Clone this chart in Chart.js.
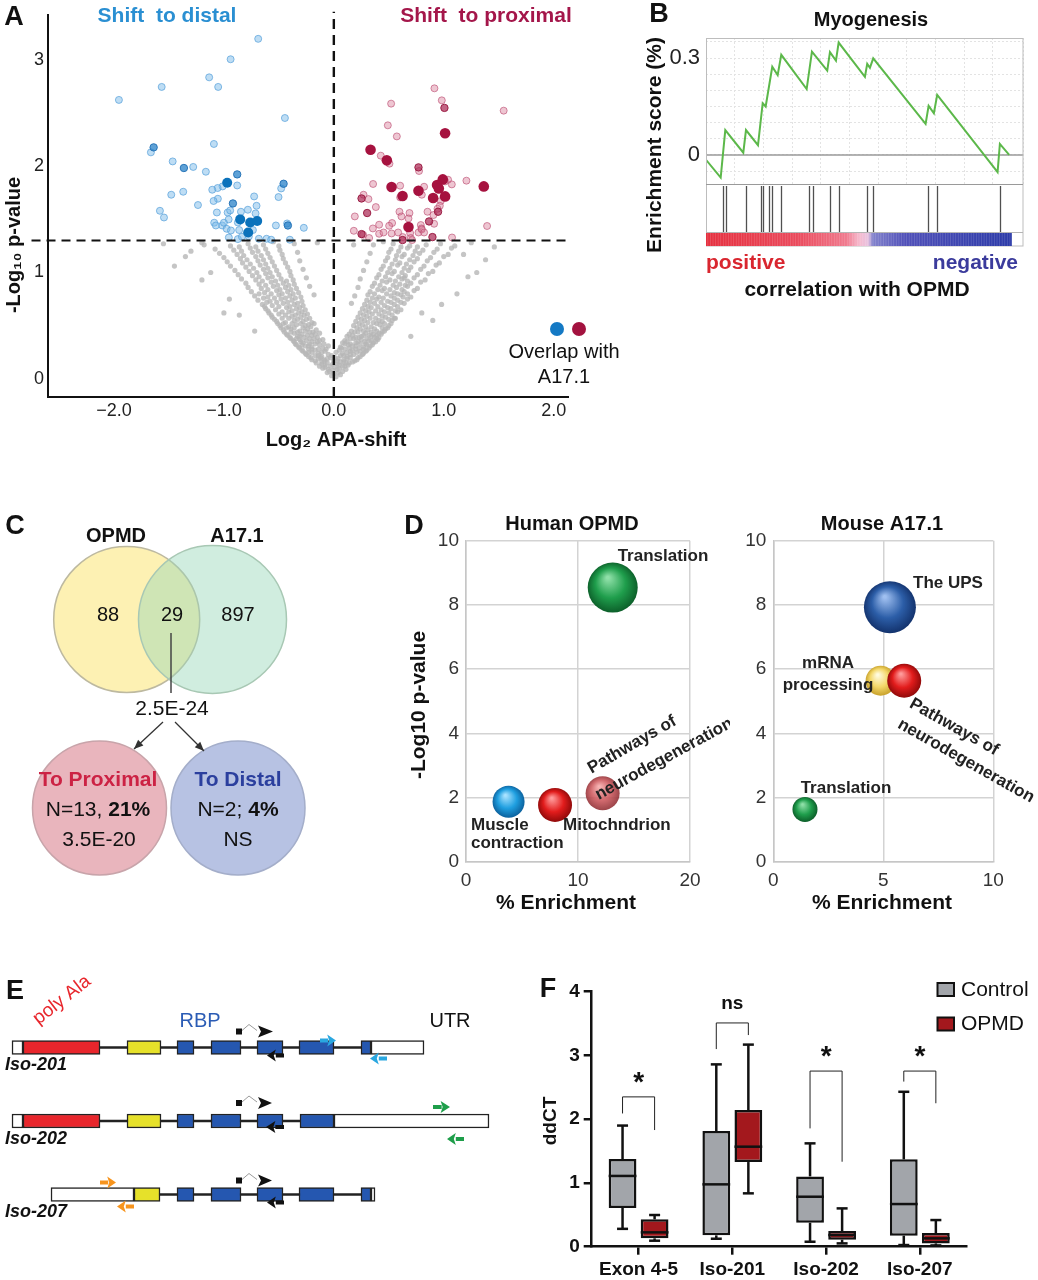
<!DOCTYPE html>
<html><head><meta charset="utf-8">
<script src="https://cdn.jsdelivr.net/npm/chart.js@4.4.1/dist/chart.umd.min.js"></script>
<style>
body{margin:0;background:#fff;width:1038px;height:1280px;position:relative;overflow:hidden}
canvas{position:absolute}
</style></head><body>
<canvas id="cA" style="left:0px;top:0px" width="625" height="460"></canvas>
<canvas id="cB" style="left:630px;top:0px" width="408" height="310"></canvas>
<canvas id="cC" style="left:0px;top:500px" width="330" height="380"></canvas>
<canvas id="cD1" style="left:400px;top:505px" width="330" height="420"></canvas>
<canvas id="cD2" style="left:735px;top:505px" width="303" height="420"></canvas>
<canvas id="cE" style="left:0px;top:975px" width="500" height="260"></canvas>
<canvas id="cF" style="left:520px;top:970px" width="518" height="312"></canvas>
<script>
// ================= DATA =================
// Panel A : volcano (Log2 APA-shift, -log10 p)
const pThreshold = 1.301;
const xTicksA = [-2, -1, 0, 1, 2];
const yTicksA = [0, 1, 2, 3];
const distalLight = [[-0.688,3.196],[-0.939,3.004],[-1.134,2.834],[-1.052,2.744],[-1.566,2.744],[-1.955,2.622],[-0.445,2.452],[-1.091,2.208],[-1.664,2.129],[-1.466,2.044],[-1.279,1.992],[-1.164,1.947],[-0.879,1.818],[-1.012,1.809],[-1.057,1.794],[-1.106,1.778],[-0.479,1.790],[-1.479,1.731],[-1.370,1.759],[-0.725,1.715],[-0.503,1.709],[-1.055,1.693],[-1.094,1.672],[-1.236,1.634],[-0.703,1.627],[-1.582,1.580],[-1.545,1.517],[-1.064,1.564],[-0.966,1.564],[-0.943,1.583],[-0.845,1.571],[-0.782,1.590],[-0.712,1.555],[-0.957,1.499],[-0.873,1.470],[-1.088,1.468],[-1.073,1.442],[-1.015,1.442],[-1.0,1.468],[-0.975,1.411],[-0.936,1.395],[-0.861,1.399],[-0.736,1.399],[-0.527,1.442],[-0.425,1.461],[-0.273,1.420],[-0.955,1.329],[-0.873,1.314],[-0.836,1.336],[-0.773,1.339],[-0.682,1.317],[-0.612,1.317],[-0.570,1.308],[-0.4,1.308]];
const distalMid = [[-1.639,2.176],[-1.364,1.982],[-0.879,1.922],[-0.457,1.834],[-0.918,1.649],[-0.418,1.442]];
const distalDark = [[-0.970,1.844],[-0.852,1.499],[-0.761,1.470],[-0.697,1.484],[-0.779,1.376]];
const proxLight = [[0.915,2.731],[0.521,2.587],[0.982,2.618],[1.545,2.521],[0.491,2.383],[0.573,2.279],[0.427,2.098],[0.506,2.023],[0.775,1.954],[1.012,1.856],[1.039,1.872],[1.073,1.828],[1.206,1.863],[0.357,1.832],[0.603,1.816],[0.821,1.806],[0.8,1.731],[0.603,1.706],[0.270,1.731],[0.315,1.690],[0.382,1.615],[0.973,1.672],[0.964,1.627],[0.943,1.599],[0.597,1.571],[0.688,1.559],[0.615,1.527],[0.679,1.508],[0.852,1.571],[0.906,1.540],[0.191,1.527],[1.394,1.437],[0.530,1.465],[0.503,1.439],[0.412,1.449],[0.355,1.414],[0.791,1.446],[0.797,1.414],[0.912,1.458],[0.182,1.392],[0.266,1.355],[0.321,1.324],[0.412,1.364],[0.452,1.376],[0.525,1.367],[0.585,1.376],[0.627,1.333],[0.694,1.371],[0.7,1.324],[0.770,1.376],[0.8,1.405],[0.821,1.376],[1.075,1.329],[0.712,1.305]];
const proxMid = [[1.006,2.547],[0.770,1.988],[0.252,1.696],[0.948,1.571],[0.303,1.559],[0.866,1.480],[0.252,1.361],[0.897,1.333],[0.625,1.305]];
const proxDark = [[1.012,2.308],[0.334,2.154],[0.482,2.054],[0.991,1.875],[0.939,1.822],[0.955,1.790],[1.364,1.809],[0.525,1.803],[0.770,1.769],[0.625,1.719],[0.903,1.700],[1.012,1.715],[0.679,1.427]];
const greyPts = [
[-0.02,0.03],[0.02,0.02],[0.0,0.05],[-0.06,0.06],[-0.01,0.08],[0.04,0.06],[0.08,0.07],
[-0.1,0.1],[-0.05,0.09],[0.01,0.11],[0.05,0.1],[0.11,0.09],
[-0.13,0.12],[-0.08,0.13],[-0.03,0.12],[0.03,0.14],[0.08,0.12],[0.13,0.13],
[-0.16,0.15],[-0.11,0.16],[-0.06,0.15],[0.0,0.17],[0.06,0.16],[0.11,0.15],[0.17,0.16],
[-0.2,0.18],[-0.14,0.19],[-0.09,0.18],[-0.03,0.2],[0.04,0.19],[0.09,0.18],[0.15,0.2],[0.21,0.18],
[-0.23,0.21],[-0.17,0.22],[-0.11,0.21],[-0.05,0.23],[0.06,0.22],[0.12,0.21],[0.18,0.23],[0.24,0.21],
[-0.26,0.24],[-0.2,0.25],[-0.14,0.24],[-0.08,0.26],[0.02,0.25],[0.08,0.24],[0.15,0.26],[0.21,0.25],[0.27,0.24],
[-0.29,0.27],[-0.23,0.28],[-0.17,0.27],[-0.1,0.29],[0.1,0.28],[0.17,0.27],[0.23,0.29],[0.3,0.27],
[-0.32,0.3],[-0.26,0.31],[-0.2,0.3],[-0.13,0.32],[-0.05,0.31],[0.06,0.3],[0.13,0.32],[0.2,0.31],[0.27,0.3],[0.33,0.31],
[-0.35,0.33],[-0.28,0.34],[-0.22,0.33],[-0.15,0.35],[0.08,0.34],[0.15,0.33],[0.22,0.35],[0.29,0.33],[0.36,0.34],
[-0.37,0.36],[-0.31,0.37],[-0.25,0.36],[-0.18,0.38],[-0.1,0.37],[0.1,0.36],[0.18,0.38],[0.25,0.37],[0.32,0.36],[0.39,0.38],
[-0.4,0.39],[-0.33,0.4],[-0.27,0.39],[-0.2,0.41],[0.12,0.4],[0.2,0.39],[0.27,0.41],[0.34,0.4],[0.41,0.39],
[-0.43,0.42],[-0.36,0.43],[-0.29,0.42],[-0.22,0.44],[-0.13,0.43],[0.14,0.42],[0.22,0.44],[0.29,0.43],[0.36,0.42],[0.44,0.44],
[-0.46,0.46],[-0.39,0.47],[-0.31,0.45],[-0.24,0.47],[-0.16,0.46],[0.16,0.45],[0.24,0.47],[0.31,0.46],[0.39,0.45],[0.47,0.47],
[-0.49,0.5],[-0.41,0.49],[-0.34,0.51],[-0.26,0.5],[-0.18,0.52],[0.18,0.5],[0.26,0.51],[0.34,0.49],[0.42,0.51],[0.5,0.5],
[-0.52,0.54],[-0.44,0.53],[-0.36,0.55],[-0.28,0.54],[-0.2,0.53],[0.2,0.54],[0.28,0.55],[0.36,0.53],[0.44,0.54],[0.53,0.55],
[-0.56,0.58],[-0.47,0.57],[-0.38,0.59],[-0.3,0.58],[-0.22,0.57],[0.22,0.58],[0.3,0.59],[0.38,0.57],[0.47,0.58],[0.56,0.57],
[-0.59,0.62],[-0.5,0.61],[-0.41,0.63],[-0.32,0.62],[-0.24,0.61],[0.24,0.62],[0.32,0.63],[0.41,0.61],[0.5,0.62],[0.58,0.63],
[-0.62,0.66],[-0.53,0.65],[-0.43,0.67],[-0.34,0.66],[-0.26,0.65],[0.26,0.66],[0.34,0.67],[0.43,0.65],[0.52,0.66],[0.61,0.65],
[-0.65,0.7],[-0.56,0.69],[-0.46,0.71],[-0.36,0.7],[-0.28,0.69],[0.16,0.71],[0.28,0.7],[0.37,0.71],[0.46,0.69],[0.55,0.7],[0.64,0.71],
[-0.69,0.74],[-0.58,0.73],[-0.48,0.75],[-0.38,0.74],[-0.29,0.73],[0.3,0.74],[0.39,0.75],[0.49,0.73],[0.58,0.74],[0.67,0.75],
[-0.72,0.78],[-0.6,0.77],[-0.5,0.79],[-0.4,0.78],[-0.3,0.77],[-0.18,0.79],[0.19,0.78],[0.31,0.79],[0.41,0.77],[0.52,0.78],[0.61,0.79],[0.7,0.77],
[-0.75,0.82],[-0.63,0.81],[-0.52,0.83],[-0.42,0.82],[-0.32,0.81],[0.33,0.82],[0.44,0.83],[0.55,0.81],[0.64,0.82],[0.73,0.83],
[-0.78,0.86],[-0.66,0.85],[-0.55,0.87],[-0.44,0.86],[-0.34,0.85],[-0.22,0.87],[0.22,0.86],[0.35,0.87],[0.46,0.85],[0.57,0.86],[0.67,0.87],[0.76,0.85],
[-0.8,0.9],[-0.68,0.89],[-0.57,0.91],[-0.46,0.9],[-0.36,0.89],[0.37,0.9],[0.48,0.91],[0.6,0.89],[0.7,0.9],[0.79,0.91],
[-0.84,0.94],[-0.71,0.93],[-0.6,0.95],[-0.48,0.94],[-0.37,0.93],[-0.25,0.95],[0.24,0.94],[0.39,0.95],[0.51,0.93],[0.62,0.94],[0.73,0.95],[0.83,0.93],
[-0.87,0.98],[-0.74,0.97],[-0.62,0.99],[-0.5,0.98],[-0.39,0.97],[0.41,0.98],[0.53,0.99],[0.65,0.97],[0.76,0.98],[0.86,0.99],
[-0.9,1.02],[-0.77,1.01],[-0.64,1.03],[-0.52,1.02],[-0.4,1.01],[-0.28,1.03],[0.27,1.02],[0.43,1.03],[0.55,1.01],[0.68,1.02],[0.79,1.03],[0.9,1.01],
[-0.94,1.06],[-0.8,1.05],[-0.67,1.07],[-0.54,1.06],[-0.42,1.05],[0.45,1.06],[0.58,1.07],[0.7,1.05],[0.82,1.06],[0.93,1.07],
[-0.97,1.1],[-0.83,1.09],[-0.69,1.11],[-0.56,1.1],[-0.44,1.09],[-0.31,1.11],[0.3,1.1],[0.47,1.11],[0.6,1.09],[0.73,1.1],[0.85,1.11],[0.96,1.09],
[-1.0,1.14],[-0.85,1.13],[-0.71,1.15],[-0.58,1.14],[-0.46,1.13],[0.49,1.14],[0.62,1.15],[0.76,1.13],[0.88,1.14],[1.0,1.15],
[-1.04,1.18],[-0.88,1.17],[-0.74,1.19],[-0.6,1.18],[-0.47,1.17],[-0.33,1.19],[0.33,1.18],[0.5,1.19],[0.64,1.17],[0.78,1.18],[0.91,1.19],[1.04,1.17],
[-1.08,1.22],[-0.91,1.21],[-0.76,1.23],[-0.62,1.22],[-0.49,1.21],[0.52,1.22],[0.67,1.23],[0.81,1.21],[0.94,1.22],[1.07,1.23],
[-1.18,1.26],[-0.94,1.25],[-0.78,1.27],[-0.64,1.26],[-0.5,1.25],[-0.36,1.27],[0.36,1.26],[0.54,1.27],[0.69,1.25],[0.84,1.26],[0.97,1.27],[1.1,1.25],
[-1.45,1.06],[-1.3,1.2],[-1.55,1.27],[-1.2,0.93],[1.22,0.96],[1.3,1.0],[1.18,1.17],[1.46,1.24],[0.64,0.95],[-1.0,0.62],[0.9,0.55],[-0.72,0.45],[0.7,0.4],[-0.86,0.6],[0.8,0.62],
[-0.04,0.07],[0.06,0.04],[-0.08,0.11],[0.03,0.09],[0.1,0.12],
[-0.11,0.14],[-0.01,0.14],[0.05,0.13],[0.14,0.15],
[-0.17,0.17],[-0.08,0.17],[0.03,0.17],[0.09,0.16],[0.19,0.17],
[-0.21,0.2],[-0.12,0.2],[-0.06,0.19],[0.01,0.2],[0.12,0.19],[0.22,0.2],
[-0.25,0.23],[-0.14,0.22],[-0.02,0.22],[0.09,0.22],[0.15,0.23],[0.26,0.23],
[-0.28,0.26],[-0.23,0.25],[-0.11,0.25],[0.05,0.27],[0.12,0.25],[0.24,0.26],[0.29,0.26],
[-0.31,0.29],[-0.2,0.28],[-0.14,0.28],[-0.07,0.28],[0.07,0.29],[0.14,0.29],[0.2,0.28],[0.27,0.28],[0.32,0.29],
[-0.34,0.32],[-0.29,0.32],[-0.23,0.31],[-0.17,0.33],[-0.09,0.33],[0.1,0.33],[0.17,0.31],[0.24,0.33],[0.3,0.32],[0.35,0.32],
[-0.36,0.35],[-0.3,0.35],[-0.2,0.35],[-0.13,0.36],[0.12,0.35],[0.2,0.34],[0.28,0.35],[0.34,0.36],[0.38,0.35],
[-0.39,0.38],[-0.34,0.38],[-0.22,0.38],[-0.15,0.39],[0.15,0.38],[0.23,0.39],[0.3,0.38],[0.37,0.39],[0.4,0.37],
[-0.42,0.41],[-0.31,0.4],[-0.24,0.41],[-0.17,0.42],[0.17,0.41],[0.25,0.4],[0.32,0.41],[0.39,0.41],[0.43,0.42],
[-0.45,0.44],[-0.39,0.44],[-0.33,0.44],[-0.26,0.45],[-0.19,0.44],[0.19,0.44],[0.27,0.45],[0.34,0.44],[0.41,0.43],[0.46,0.45],
[-0.48,0.48],[-0.43,0.48],[-0.36,0.48],[-0.28,0.48],[-0.21,0.49],[0.21,0.48],[0.29,0.49],[0.37,0.47],[0.44,0.48],[0.49,0.48],
[-0.51,0.52],[-0.46,0.52],[-0.38,0.52],[-0.3,0.52],[-0.23,0.51],[0.23,0.52],[0.31,0.53],[0.39,0.52],[0.46,0.52],[0.52,0.52],
[-0.54,0.56],[-0.41,0.57],[-0.33,0.56],[-0.25,0.56],[0.25,0.56],[0.33,0.57],[0.41,0.55],[0.5,0.56],[0.55,0.57],
[-0.57,0.6],[-0.44,0.6],[-0.35,0.6],[-0.27,0.6],[0.27,0.6],[0.35,0.61],[0.44,0.59],[0.53,0.6],
[-0.6,0.64],[-0.47,0.63],[-0.38,0.64],[-0.29,0.63],[0.29,0.64],[0.38,0.64],[0.46,0.63],[0.56,0.64],
[-0.63,0.68],[-0.5,0.68],[-0.4,0.68],[-0.31,0.67],[0.31,0.68],[0.4,0.68],[0.49,0.67],[0.58,0.68],
[-0.61,0.72],[-0.52,0.72],[-0.42,0.72],[-0.33,0.71],[0.33,0.72],[0.43,0.72],[0.52,0.72],[0.61,0.72],
[-0.64,0.76],[-0.54,0.76],[-0.44,0.76],[-0.35,0.76],[0.35,0.76],[0.45,0.76],[0.55,0.76],[0.63,0.77],
[-0.68,0.8],[-0.57,0.8],[-0.47,0.8],[-0.37,0.8],[0.37,0.8],[0.48,0.8],[0.58,0.8],[0.67,0.8],
[-0.6,0.84],[-0.49,0.84],[-0.39,0.84],[0.4,0.84],[0.51,0.84],[0.62,0.84],
[-0.62,0.88],[-0.51,0.88],[-0.41,0.88],[0.42,0.88],[0.54,0.88],[0.65,0.88],
[-0.65,0.92],[-0.53,0.92],[-0.43,0.92],[0.44,0.92],[0.56,0.92],[0.67,0.92],
[-0.68,0.96],[-0.56,0.96],[0.47,0.96],[0.59,0.96],
[-0.7,1.0],[-0.58,1.0],[0.49,1.0],[0.62,1.0],
[-0.73,1.04],[-0.6,1.04],[0.51,1.04],[0.64,1.04],
[-0.76,1.08],[-0.62,1.08],[0.53,1.08],[0.66,1.08],
[-0.79,1.12],[-0.64,1.12],[0.56,1.12],[0.69,1.12],
[-0.82,1.16],[-0.66,1.16],[0.57,1.16],[0.72,1.16],
[-0.84,1.2],[-0.69,1.2],[0.59,1.2],[0.74,1.2],
[-0.86,1.24],[-0.71,1.24],[0.61,1.24],[0.76,1.24],
[-1.2,1.28],[-1.35,1.15],[1.25,1.28],[1.38,1.12],[-0.15,1.28],[0.18,1.26],[-0.55,1.29],[0.45,1.29],[-1.12,1.0],[1.12,0.8],[-0.95,0.75],[0.98,0.7]
];

// Panel B : GSEA running enrichment score (x in rank-grid units)
const esX = [0,0.512,0.672,1.300,1.394,1.812,1.976,2.080,2.310,2.498,2.624,3.509,3.693,4.226,4.321,4.530,4.624,5.540,5.620,5.714,5.829,7.655,7.760,7.944,8.059,10.164,10.244,10.568];
const esY = [-0.015,-0.070,0.077,0.007,0.077,0.030,0.160,0.150,0.273,0.247,0.310,0.204,0.320,0.261,0.318,0.292,0.348,0.242,0.282,0.270,0.299,0.096,0.152,0.129,0.186,-0.053,0.034,0.0];
const hitX = [0.582,0.697,1.394,1.906,1.997,2.195,2.300,2.613,3.599,3.718,4.321,4.624,5.620,5.829,7.735,8.038,10.244];
const esGridTicks = [-0.05, 0, 0.05, 0.1, 0.15, 0.2, 0.25, 0.3, 0.35];
const rankMax = 11.05, rankListEnd = 10.66;

// Panel C : overlap counts
const vennNames = ['OPMD', 'A17.1'];
const vennCounts = [88, 29, 897];
const overlapP = '2.5E-24';
const shiftNames = ['To Proximal', 'To Distal'];
const shiftN = [13, 2];
const shiftPct = ['21%', '4%'];
const shiftP = ['3.5E-20', 'NS'];

// Panel D : enrichment bubbles
const humanTerms = ['Translation', 'Muscle contraction', 'Mitochndrion', 'Pathways of neurodegeneration'];
const humanEnrich = [13.1, 3.8, 7.95, 12.2];
const humanLogP = [8.54, 1.87, 1.77, 2.13];
const humanSize = [25, 16, 17, 17];
const mouseTerms = ['The UPS', 'mRNA processing', 'Pathways of neurodegeneration', 'Translation'];
const mouseEnrich = [5.30, 4.88, 5.95, 1.44];
const mouseLogP = [7.93, 5.64, 5.64, 1.63];
const mouseSize = [26, 15, 17, 12.5];

// Panel E : transcript structures (transcript units)
const isoNames = ['Iso-201', 'Iso-202', 'Iso-207'];
const exon5UTR = [[12,23],[12,23],[51,134]];
const exonPolyAla = [[23,100],[23,100],null];
const exonYellow = [[127,161],[127,161],[134,160]];
const exonRBP1 = [[177,194],[177,194],[177,194]];
const exonRBP2 = [[211,241],[211,241],[211,241]];
const exonRBP3 = [[257,283],[257,283],[257,283]];
const exonRBP4 = [[299,334],[300,334],[299,334]];
const exonRBP5 = [[361,371],null,[361,371]];
const exon3UTR = [[371,424],[334,489],[371,375]];
const intronSpan = [[100,361],[100,300],[134,361]];
// primers: row, from, to, colour, offset, kind
const primers = [
 [0,258,273,'#111',-16,'tag'],[0,283,267,'#111',8,''],[0,320,336,'#2aa7e0',-7,''],[0,386,370,'#2aa7e0',11,''],
 [1,258,272,'#111',-18,'tag'],[1,283,266,'#111',6,''],[1,433,450,'#1e9e4a',-14,''],[1,463,447,'#1e9e4a',18,''],
 [2,100,116,'#f7941d',-12,''],[2,133,117,'#f7941d',12,''],[2,258,272,'#111',-14,'tag'],[2,283,267,'#111',8,'']
];

// Panel F : ddCT boxplots
const fCats = ['Exon 4-5', 'Iso-201', 'Iso-202', 'Iso-207'];
const ctrlMin = [0.28, 0.125, 0.078, 0.026];
const ctrlQ1 = [0.607, 0.178, 0.376, 0.173];
const ctrlMed = [1.11, 0.978, 0.784, 0.669];
const ctrlQ3 = [1.375, 1.814, 1.103, 1.37];
const ctrlMax = [1.90, 2.86, 1.621, 2.43];
const opmdMin = [0.094, 0.837, 0.052, 0.02];
const opmdQ1 = [0.131, 1.328, 0.11, 0.052];
const opmdMed = [0.225, 1.569, 0.183, 0.131];
const opmdQ3 = [0.429, 2.144, 0.246, 0.214];
const opmdMax = [0.497, 3.17, 0.601, 0.418];
const sigLabels = ['*', 'ns', '*', '*'];
const bracketLeft = [2.09, 3.10, 1.856, 2.59];
const bracketTop = [2.35, 3.51, 2.755, 2.755];
const bracketRight = [1.83, 3.32, 1.333, 2.25];

// ================= HELPERS =================
const FF = "'Liberation Sans', Arial, Helvetica, sans-serif";
Chart.defaults.font.family = FF;
Chart.defaults.animation = false;
Chart.defaults.events = [];
Chart.defaults.layout.autoPadding = false;
Chart.defaults.plugins.legend.display = false;
Chart.defaults.plugins.tooltip.enabled = false;
Chart.defaults.color = '#111';

function T(c, s, x, y, o = {}) {
  c.save(); c.translate(x, y); if (o.rot) c.rotate(o.rot * Math.PI / 180);
  c.font = (o.style || '') + ' ' + (o.weight || 'normal') + ' ' + (o.size || 18) + 'px ' + FF;
  c.fillStyle = o.color || '#111'; c.textAlign = o.align || 'center'; c.textBaseline = 'middle';
  c.fillText(s, 0, 0); c.restore();
}
function L(c, pts, color, w, dash) {
  c.save(); c.strokeStyle = color; c.lineWidth = w; c.setLineDash(dash || []);
  c.beginPath(); pts.forEach((p, i) => i ? c.lineTo(p[0], p[1]) : c.moveTo(p[0], p[1])); c.stroke(); c.restore();
}
let decoN = 0;
function deco(ox, oy, fn, before) {
  const p = { id: 'deco' + (decoN++) };
  p[before ? 'beforeDatasetsDraw' : 'afterDraw'] = (ch) => { const c = ch.ctx; c.save(); c.translate(-ox, -oy); fn(c, ch, ox, oy); c.restore(); };
  return p;
}
const pts = arr => arr.map(p => ({ x: p[0], y: p[1] }));
function sphere(cols) {
  return (ctx) => {
    const ch = ctx.chart; const i = ctx.dataIndex; const col = cols[i % cols.length];
    if (!ch.chartArea || ctx.raw == null) return col[1];
    const x = ch.scales.x.getPixelForValue(ctx.raw.x), y = ch.scales.y.getPixelForValue(ctx.raw.y), r = ctx.raw.r;
    const g = ch.ctx.createRadialGradient(x - r * 0.2, y - r * 0.4, r * 0.05, x, y, r * 1.05);
    g.addColorStop(0, col[0]); g.addColorStop(0.55, col[1]); g.addColorStop(1, col[2]);
    return g;
  };
}

// ================= PANEL A =================
new Chart(document.getElementById('cA'), {
  type: 'scatter',
  data: { datasets: [
    { data: pts(greyPts), pointRadius: 2.6, backgroundColor: 'rgba(182,182,182,0.8)', borderWidth: 0, order: 6 },
    { data: pts(distalLight), pointRadius: 3.5, backgroundColor: 'rgba(125,188,233,0.5)', borderColor: 'rgba(85,160,218,0.7)', borderWidth: 1, order: 5 },
    { data: pts(proxLight), pointRadius: 3.5, backgroundColor: 'rgba(214,120,148,0.42)', borderColor: 'rgba(185,70,108,0.6)', borderWidth: 1, order: 5 },
    { data: pts(distalMid), pointRadius: 3.7, backgroundColor: 'rgba(40,130,200,0.75)', borderColor: 'rgba(30,110,180,0.9)', borderWidth: 1, order: 4 },
    { data: pts(proxMid), pointRadius: 3.7, backgroundColor: 'rgba(170,35,80,0.7)', borderColor: 'rgba(150,20,60,0.9)', borderWidth: 1, order: 4 },
    { data: pts(distalDark), pointRadius: 5, backgroundColor: '#0b72bb', borderWidth: 0, order: 3 },
    { data: pts(proxDark), pointRadius: 5.3, backgroundColor: '#a6123f', borderWidth: 0, order: 3 },
    { type: 'line', data: [{ x: -2.75, y: pThreshold }, { x: 2.13, y: pThreshold }], borderColor: '#111', borderWidth: 2.2, borderDash: [9, 6], pointRadius: 0, clip: false, order: 1 },
    { type: 'line', data: [{ x: 0, y: -0.17 }, { x: 0, y: 3.45 }], borderColor: '#111', borderWidth: 2.4, borderDash: [10, 6], pointRadius: 0, clip: false, order: 1 }
  ] },
  options: {
    responsive: false,
    layout: { padding: { top: 15, right: 57, left: 0, bottom: 0 } },
    scales: {
      x: { type: 'linear', min: -2.6, max: 2.13,
        afterBuildTicks: s => { s.ticks = xTicksA.map(v => ({ value: v })); },
        grid: { display: false, drawTicks: false }, border: { display: true, color: '#111', width: 2 },
        ticks: { autoSkip: false, callback: v => (v < 0 ? '\u2212' : '') + Math.abs(v).toFixed(1), font: { size: 18 }, color: '#222', padding: 3 },
        afterFit: s => { s.height = 63; } },
      y: { type: 'linear', min: -0.17, max: 3.42,
        afterBuildTicks: s => { s.ticks = yTicksA.map(v => ({ value: v })); },
        grid: { display: false, drawTicks: false }, border: { display: true, color: '#111', width: 2 },
        ticks: { autoSkip: false, font: { size: 18 }, color: '#222', padding: 4 },
        afterFit: s => { s.width = 48; } }
    }
  },
  plugins: [deco(0, 0, (c) => {
    T(c, 'A', 14, 18, { size: 27, weight: 'bold' });
    T(c, 'Shift  to distal', 167, 16, { size: 21, weight: 'bold', color: '#2a8fd2' });
    T(c, 'Shift  to proximal', 486, 16, { size: 21, weight: 'bold', color: '#a4164a' });
    T(c, '-Log\u2081\u2080 p-value', 14, 245, { size: 20, weight: 'bold', rot: -90 });
    T(c, 'Log\u2082 APA-shift', 336, 440, { size: 20, weight: 'bold' });
    c.fillStyle = '#1479c4'; c.beginPath(); c.arc(557, 329, 7, 0, 7); c.fill();
    c.fillStyle = '#a3123f'; c.beginPath(); c.arc(579, 329, 7, 0, 7); c.fill();
    T(c, 'Overlap with', 564, 352, { size: 20 });
    T(c, 'A17.1', 564, 377, { size: 20 });
  })]
});

// ================= PANEL B =================
new Chart(document.getElementById('cB'), {
  type: 'scatter',
  data: { datasets: [
    { data: [{ x: 0, y: 0 }, { x: rankMax, y: 0 }], showLine: true, borderColor: '#9a9a9a', borderWidth: 1.5, pointRadius: 0, order: 2 },
    { data: esX.map((x, i) => ({ x, y: esY[i] })), showLine: true, borderColor: '#5cb84a', borderWidth: 2, pointRadius: 0, order: 1 }
  ] },
  options: {
    responsive: false,
    layout: { padding: { top: 38, right: 15, left: 0, bottom: 126 } },
    scales: {
      x: { type: 'linear', min: 0, max: rankMax, ticks: { display: false, stepSize: 1, autoSkip: false },
        grid: { color: '#e3e3e3', lineWidth: 1, drawTicks: false }, border: { display: false, dash: [2, 2] },
        afterFit: s => { s.height = 0; } },
      y: { type: 'linear', min: -0.09, max: 0.362,
        afterBuildTicks: s => { s.ticks = esGridTicks.map(v => ({ value: v })); },
        ticks: { autoSkip: false, font: { size: 22 }, color: '#222', padding: 6,
          callback: v => Math.abs(v) < 1e-6 ? '0' : (Math.abs(v - 0.3) < 1e-6 ? '0.3' : '') },
        grid: { color: '#e3e3e3', lineWidth: 1, drawTicks: false }, border: { display: false, dash: [2, 2] },
        afterFit: s => { s.width = 76; } }
    }
  },
  plugins: [deco(630, 0, (c, ch, ox) => {
    const X = v => ch.scales.x.getPixelForValue(v) + ox;
    c.save(); c.strokeStyle = '#bdbdbd'; c.lineWidth = 1; c.strokeRect(706.5, 38.5, 316.5, 207.5); c.restore();
    L(c, [[706, 184.5], [1023, 184.5]], '#9a9a9a', 1);
    L(c, [[706, 232.5], [1023, 232.5]], '#b5b5b5', 1);
    hitX.forEach(h => { const px = Math.round(X(h)) + 0.5; L(c, [[px, 186], [px, 232]], '#505050', 1.3); });
    const x0 = X(0), x1 = X(rankListEnd);
    const g = c.createLinearGradient(x0, 0, x1, 0);
    g.addColorStop(0, '#e5303f'); g.addColorStop(0.3, '#ea4a5c'); g.addColorStop(0.46, '#f07a8e');
    g.addColorStop(0.5, '#f6b8cc'); g.addColorStop(0.53, '#e9c3e0'); g.addColorStop(0.545, '#8282cc');
    g.addColorStop(0.65, '#5050b8'); g.addColorStop(1, '#2b3aa8');
    c.fillStyle = g; c.fillRect(x0, 233, x1 - x0, 13);
    c.save(); c.globalAlpha = 0.18; c.fillStyle = '#fff';
    for (let v = 0.05; v < rankListEnd; v += 0.09) { c.fillRect(X(v), 233, 0.8, 13); }
    c.restore();
    T(c, 'B', 659, 15, { size: 27, weight: 'bold' });
    T(c, 'Myogenesis', 871, 20, { size: 20, weight: 'bold' });
    T(c, 'Enrichment score (%)', 655, 145, { size: 21, weight: 'bold', rot: -90 });
    T(c, 'positive', 706, 263, { size: 21, weight: 'bold', color: '#d9262f', align: 'left' });
    T(c, 'negative', 1018, 263, { size: 21, weight: 'bold', color: '#3b3b9c', align: 'right' });
    T(c, 'correlation with OPMD', 857, 290, { size: 21, weight: 'bold' });
  })]
});

// ================= PANEL C =================
const vennLayout = [ { x: 126.7, y: 119.5, r: 73 }, { x: 212.5, y: 119.5, r: 74 }, { x: 99.5, y: 308, r: 67 }, { x: 238, y: 308, r: 67 } ];
new Chart(document.getElementById('cC'), {
  type: 'bubble',
  data: { datasets: [{ data: vennLayout,
    backgroundColor: ['#fdf1b3', 'rgba(150,215,185,0.45)', '#e9b5bd', '#b7c2e3'],
    borderColor: ['#bdb9a0', '#a8c8b4', '#c8a4aa', '#a4aeca'], borderWidth: 1.5, clip: false }] },
  options: {
    responsive: false, layout: { padding: 0, autoPadding: false },
    scales: { x: { display: false, min: 0, max: 330 }, y: { display: false, min: 0, max: 380, reverse: true } }
  },
  plugins: [deco(0, 500, (c) => {
    T(c, 'C', 15, 527, { size: 27, weight: 'bold' });
    T(c, vennNames[0], 116, 536, { size: 20, weight: 'bold' });
    T(c, vennNames[1], 237, 536, { size: 20, weight: 'bold' });
    T(c, String(vennCounts[0]), 108, 615, { size: 20 });
    T(c, String(vennCounts[1]), 172, 615, { size: 20 });
    T(c, String(vennCounts[2]), 238, 615, { size: 20 });
    L(c, [[171, 633], [171, 693]], '#444', 1.5);
    T(c, overlapP, 172, 709, { size: 21 });
    const arrow = (x1, y1, x2, y2) => {
      L(c, [[x1, y1], [x2, y2]], '#333', 1.3);
      const a = Math.atan2(y2 - y1, x2 - x1);
      c.save(); c.fillStyle = '#333'; c.beginPath(); c.moveTo(x2, y2);
      c.lineTo(x2 - 10 * Math.cos(a - 0.4), y2 - 10 * Math.sin(a - 0.4));
      c.lineTo(x2 - 10 * Math.cos(a + 0.4), y2 - 10 * Math.sin(a + 0.4)); c.closePath(); c.fill(); c.restore();
    };
    arrow(163, 722, 134, 749); arrow(175, 722, 204, 751);
    T(c, shiftNames[0], 98, 780, { size: 21, weight: 'bold', color: '#cc2244' });
    T(c, shiftNames[1], 238, 780, { size: 21, weight: 'bold', color: '#2b3f9e' });
    const mixed = (a, b, cx, y) => {
      c.save(); c.font = 'normal 21px ' + FF; const w1 = c.measureText(a).width;
      c.font = 'bold 21px ' + FF; const w2 = c.measureText(b).width; c.restore();
      const x0 = cx - (w1 + w2) / 2;
      T(c, a, x0, y, { size: 21, align: 'left' }); T(c, b, x0 + w1, y, { size: 21, weight: 'bold', align: 'left' });
    };
    mixed('N=' + shiftN[0] + ', ', shiftPct[0], 98, 810);
    mixed('N=' + shiftN[1] + '; ', shiftPct[1], 238, 810);
    T(c, shiftP[0], 99, 840, { size: 21 });
    T(c, shiftP[1], 238, 840, { size: 21 });
  })]
});

// ================= PANEL D =================
const sphGreen = ['#8fe0a8', '#1f9e4c', '#0b5a27'];
const sphBlue = ['#a8e2ff', '#1f9fe0', '#0a5c98'];
const sphRed = ['#ff9a9a', '#e21c1c', '#8a0808'];
const sphPink = ['rgba(245,170,170,0.9)', 'rgba(205,90,95,0.9)', 'rgba(140,45,50,0.9)'];
const sphNavy = ['#9fbff0', '#2c5ea8', '#112f68'];
const sphYellow = ['#fffbe0', '#f4d86a', '#c49c25'];
function dAxes(xmax, xticks, yw) {
  return {
    x: { type: 'linear', min: 0, max: xmax,
      afterBuildTicks: s => { s.ticks = xticks.map(v => ({ value: v })); },
      grid: { color: '#d3d3d3', lineWidth: 1.5, drawTicks: false }, border: { color: '#c6c6c6', width: 1.5 },
      ticks: { autoSkip: false, font: { size: 19 }, color: '#333', padding: 8 }, afterFit: s => { s.height = 63.3; } },
    y: { type: 'linear', min: 0, max: 10,
      afterBuildTicks: s => { s.ticks = [0, 2, 4, 6, 8, 10].map(v => ({ value: v })); },
      grid: { color: '#d3d3d3', lineWidth: 1.5, drawTicks: false }, border: { color: '#c6c6c6', width: 1.5 },
      ticks: { autoSkip: false, font: { size: 19 }, color: '#333', padding: 7 }, afterFit: s => { s.width = yw; } }
  };
}
new Chart(document.getElementById('cD1'), {
  type: 'bubble',
  data: { datasets: [{ data: humanEnrich.map((x, i) => ({ x, y: humanLogP[i], r: humanSize[i] })),
    backgroundColor: sphere([sphGreen, sphBlue, sphRed, sphPink]), borderWidth: 0, clip: false }] },
  options: { responsive: false, layout: { padding: { top: 35.7, right: 40, left: 0, bottom: 0 }, autoPadding: false }, scales: dAxes(20, [0, 10, 20], 66) },
  plugins: [deco(400, 505, (c) => {
    T(c, 'D', 414, 527, { size: 27, weight: 'bold' });
    T(c, 'Human OPMD', 572, 524, { size: 20, weight: 'bold' });
    T(c, '-Log10 p-value', 419, 705, { size: 21, weight: 'bold', rot: -90 });
    T(c, '% Enrichment', 566, 903, { size: 21, weight: 'bold' });
    const o = { size: 17, weight: 'bold', color: '#222' };
    T(c, humanTerms[0], 663, 556, o);
    T(c, 'Muscle', 471, 825, Object.assign({ align: 'left' }, o));
    T(c, 'contraction', 471, 843, Object.assign({ align: 'left' }, o));
    T(c, humanTerms[2], 563, 825, Object.assign({ align: 'left' }, o));
    T(c, 'Pathways of', 632, 745, Object.assign({ rot: -30 }, o));
    T(c, 'neurodegeneration', 664, 759, Object.assign({ rot: -28.6 }, o));
  })]
});
new Chart(document.getElementById('cD2'), {
  type: 'bubble',
  data: { datasets: [{ data: mouseEnrich.map((x, i) => ({ x, y: mouseLogP[i], r: mouseSize[i] })),
    backgroundColor: sphere([sphNavy, sphYellow, sphRed, sphGreen]), borderWidth: 0, clip: false }] },
  options: { responsive: false, layout: { padding: { top: 35.7, right: 44.7, left: 0, bottom: 0 }, autoPadding: false }, scales: dAxes(10, [0, 5, 10], 38.3) },
  plugins: [deco(735, 505, (c) => {
    T(c, 'Mouse A17.1', 882, 524, { size: 20, weight: 'bold' });
    T(c, '% Enrichment', 882, 903, { size: 21, weight: 'bold' });
    const o = { size: 17, weight: 'bold', color: '#222' };
    T(c, mouseTerms[0], 948, 583, o);
    T(c, 'mRNA', 828, 663, o);
    T(c, 'processing', 828, 685, o);
    T(c, mouseTerms[3], 846, 788, o);
    T(c, 'Pathways of', 954, 727, Object.assign({ rot: 29.4 }, o));
    T(c, 'neurodegeneration', 966, 761, Object.assign({ rot: 29.5 }, o));
  })]
});

// ================= PANEL E =================
const exonStyle = (data, color) => ({ data, backgroundColor: color, borderColor: '#222', borderWidth: 1.5, borderSkipped: false, barThickness: 14, order: 1 });
new Chart(document.getElementById('cE'), {
  type: 'bar',
  data: { labels: isoNames, datasets: [
    { data: intronSpan, backgroundColor: '#222', borderWidth: 0, barThickness: 2, order: 5 },
    exonStyle(exon5UTR, '#ffffff'), exonStyle(exonPolyAla, '#e8262c'), exonStyle(exonYellow, '#e6e12a'),
    exonStyle(exonRBP1, '#2557b0'), exonStyle(exonRBP2, '#2557b0'), exonStyle(exonRBP3, '#2557b0'),
    exonStyle(exonRBP4, '#2557b0'), exonStyle(exonRBP5, '#2557b0'), exonStyle(exon3UTR, '#ffffff')
  ] },
  options: {
    responsive: false, indexAxis: 'y',
    datasets: { bar: { grouped: false } },
    layout: { padding: { top: 35.75, bottom: 3.75, left: 0, right: 0 }, autoPadding: false },
    scales: { x: { type: 'linear', min: 0, max: 500, display: false }, y: { type: 'category', display: false, offset: true } }
  },
  plugins: [deco(0, 975, (c, ch, ox, oy) => {
    const X = v => ch.scales.x.getPixelForValue(v) + ox;
    const Y = r => ch.scales.y.getPixelForValue(r) + oy;
    primers.forEach(p => {
      const [row, a, b, col, dy, kind] = p; const y = Y(row) + dy; const xa = X(a), xb = X(b); const dir = Math.sign(xb - xa);
      c.save(); c.fillStyle = col;
      if (kind === 'tag') {
        c.fillRect(xa - 22, y - 3, 6, 6);
        L(c, [[xa - 16, y - 1], [xa - 9, y - 7], [xa - 1, y - 1]], '#9a9a9a', 1);
        c.beginPath(); c.moveTo(xb, y); c.lineTo(xa, y - 6); c.lineTo(xa + 3, y); c.lineTo(xa, y + 6); c.closePath(); c.fill();
      } else {
        const len = Math.abs(xb - xa); const hb = xb - dir * len * 0.55;
        c.fillRect(Math.min(xa, hb), y - 2, Math.abs(hb - xa) + 1, 4);
        c.beginPath(); c.moveTo(xb, y); c.lineTo(hb, y - 6); c.lineTo(hb + dir * 2, y); c.lineTo(hb, y + 6); c.closePath(); c.fill();
      }
      c.restore();
    });
    isoNames.forEach((n, i) => T(c, n, 5, Y(i) + 18, { size: 18, weight: 'bold', style: 'italic', align: 'left' }));
    T(c, 'E', 15, 992, { size: 27, weight: 'bold' });
    T(c, 'poly Ala', 62, 1000, { size: 19, color: '#e8262c', rot: -38 });
    T(c, 'RBP', 200, 1021, { size: 20, color: '#2b5cb5' });
    T(c, 'UTR', 450, 1021, { size: 20 });
  })]
});

// ================= PANEL F =================
const boxStyle = { borderColor: '#111', borderWidth: 2.5, borderSkipped: false, categoryPercentage: 0.684, barPercentage: 0.866 };
new Chart(document.getElementById('cF'), {
  type: 'bar',
  data: { labels: fCats, datasets: [
    Object.assign({ label: 'Control', data: ctrlQ1.map((q, i) => [q, ctrlQ3[i]]), backgroundColor: '#a2a5aa' }, boxStyle),
    Object.assign({ label: 'OPMD', data: opmdQ1.map((q, i) => [q, opmdQ3[i]]), backgroundColor: '#a3181d' }, boxStyle)
  ] },
  options: {
    responsive: false,
    layout: { padding: { top: 21.7, right: 71.3, left: 0, bottom: 0 }, autoPadding: false },
    scales: {
      x: { grid: { display: true, drawOnChartArea: false, drawTicks: true, tickLength: 8, offset: false, color: '#111', lineWidth: 2.5 },
        border: { display: true, color: '#111', width: 2.5 },
        ticks: { autoSkip: false, font: { size: 19, weight: 'bold' }, color: '#111', padding: 4 }, afterFit: s => { s.height = 35.3; } },
      y: { min: 0, max: 4, ticks: { autoSkip: false, stepSize: 1, font: { size: 19, weight: 'bold' }, color: '#111', padding: 4 },
        grid: { display: true, drawOnChartArea: false, drawTicks: true, tickLength: 8, color: '#111', lineWidth: 2.5 },
        border: { display: true, color: '#111', width: 2.5 }, afterFit: s => { s.width = 71.7; } }
    }
  },
  plugins: [
    deco(520, 970, (c, ch, ox, oy) => {
      const Y = v => ch.scales.y.getPixelForValue(v) + oy;
      [[ctrlMin, ctrlMax, ctrlQ1, ctrlQ3], [opmdMin, opmdMax, opmdQ1, opmdQ3]].forEach((s, d) => {
        ch.getDatasetMeta(d).data.forEach((el, i) => {
          const x = el.x + ox;
          L(c, [[x, Y(s[0][i])], [x, Y(s[2][i])]], '#111', 2.5);
          L(c, [[x, Y(s[3][i])], [x, Y(s[1][i])]], '#111', 2.5);
          L(c, [[x - 5.5, Y(s[0][i])], [x + 5.5, Y(s[0][i])]], '#111', 2.5);
          L(c, [[x - 5.5, Y(s[1][i])], [x + 5.5, Y(s[1][i])]], '#111', 2.5);
        });
      });
    }, true),
    deco(520, 970, (c, ch, ox, oy) => {
      const Y = v => ch.scales.y.getPixelForValue(v) + oy;
      [ctrlMed, opmdMed].forEach((m, d) => {
        ch.getDatasetMeta(d).data.forEach((el, i) => {
          const x = el.x + ox, w = el.width / 2;
          L(c, [[x - w, Y(m[i])], [x + w, Y(m[i])]], '#111', 2.5);
        });
      });
      const mc = ch.getDatasetMeta(0).data, mo = ch.getDatasetMeta(1).data;
      fCats.forEach((n, i) => {
        const xl = mc[i].x + ox, xr = mo[i].x + ox;
        L(c, [[xl, Y(bracketLeft[i])], [xl, Y(bracketTop[i])], [xr, Y(bracketTop[i])], [xr, Y(bracketRight[i])]], '#222', 1);
        if (sigLabels[i] === '*') T(c, '*', (xl + xr) / 2, Y(bracketTop[i]) - 14, { size: 28, weight: 'bold' });
        else T(c, sigLabels[i], (xl + xr) / 2, Y(bracketTop[i]) - 19, { size: 19, weight: 'bold' });
      });
      T(c, 'F', 548, 990, { size: 27, weight: 'bold' });
      T(c, 'ddCT', 551, 1121, { size: 19, weight: 'bold', rot: -90 });
      c.save(); c.lineWidth = 2; c.strokeStyle = '#111';
      c.fillStyle = '#a2a5aa'; c.fillRect(937.5, 983, 16.5, 13); c.strokeRect(937.5, 983, 16.5, 13);
      c.fillStyle = '#a3181d'; c.fillRect(937.5, 1017.5, 16.5, 13); c.strokeRect(937.5, 1017.5, 16.5, 13);
      c.restore();
      T(c, 'Control', 961, 990, { size: 21, align: 'left' });
      T(c, 'OPMD', 961, 1024, { size: 21, align: 'left' });
    })
  ]
});
</script>
</body></html>
